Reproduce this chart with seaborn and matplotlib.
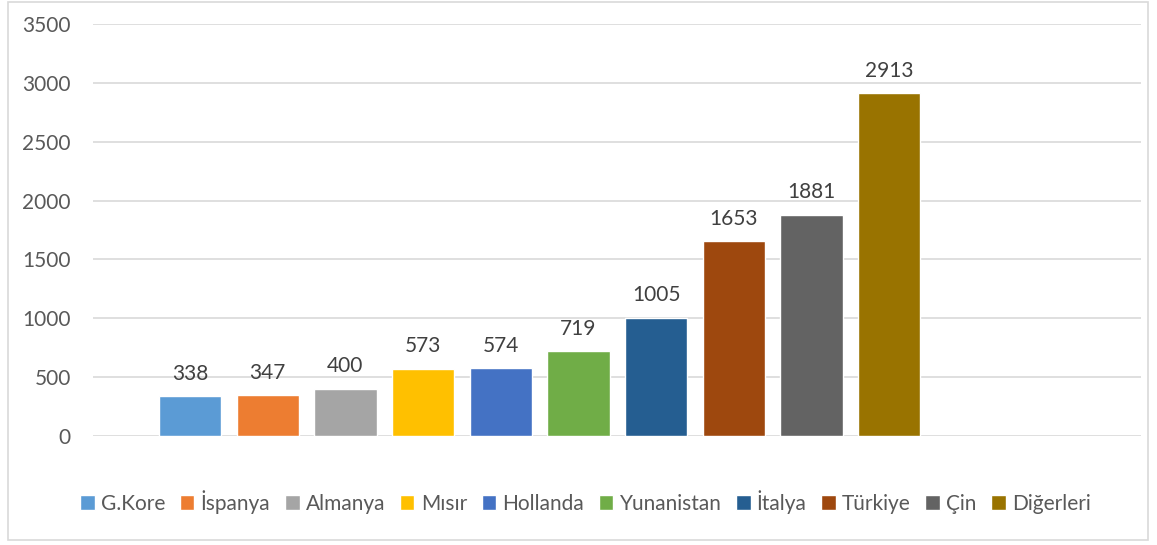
import matplotlib
matplotlib.use('Agg')
import matplotlib.pyplot as plt
from matplotlib.patches import Rectangle
import seaborn as sns

ulkeler = ['G.Kore', 'İspanya', 'Almanya', 'Mısır', 'Hollanda',
           'Yunanistan', 'İtalya', 'Türkiye', 'Çin', 'Diğerleri']
degerler = [338, 347, 400, 573, 574, 719, 1005, 1653, 1881, 2913]
renkler = ['#5B9BD5', '#ED7D31', '#A5A5A5', '#FFC000', '#4472C4',
           '#70AD47', '#255E91', '#9E480E', '#636363', '#997300']
y_ticks = [0, 500, 1000, 1500, 2000, 2500, 3000, 3500]

sns.set_style('white')
plt.rcParams['font.family'] = ['Lato', 'DejaVu Sans']

fig = plt.figure(figsize=(11.57, 5.45), dpi=100)
ax = fig.add_axes([0.0804, 0.2, 0.9056, 0.756])

sns.barplot(x=ulkeler, y=degerler, hue=ulkeler, palette=renkler,
            width=0.8, dodge=False, legend=True, ax=ax, saturation=1)

# degerler cubuklarin ustunde
for c in ax.containers:
    ax.bar_label(c, fmt='%d', padding=9, fontsize=15, color='#404040')

ax.set_xlim(-1.25, 12.24)
ax.set_ylim(0, 3500)
ax.set_yticks(y_ticks)
ax.set_xticks([])
ax.tick_params(axis='y', labelsize=15, labelcolor='#595959', length=0, pad=16)
ax.grid(axis='y', color='#D9D9D9', linewidth=1.2)
ax.set_axisbelow(True)
for s in ax.spines.values():
    s.set_visible(False)

handles, labels = ax.get_legend_handles_labels()
ax.legend(handles, labels, loc='center', bbox_to_anchor=(0.47, -0.16),
          ncol=10, frameon=False, fontsize=15, labelcolor='#595959',
          handlelength=0.7, handleheight=0.7, handletextpad=0.3,
          columnspacing=0.7)

# cerceve
fig.patches.append(Rectangle((8 / 1157, 5 / 545), 1140 / 1157, 538 / 545,
                             transform=fig.transFigure, fill=False,
                             edgecolor='#D9D9D9', linewidth=1.2))

fig.savefig('out.png', dpi=100)
